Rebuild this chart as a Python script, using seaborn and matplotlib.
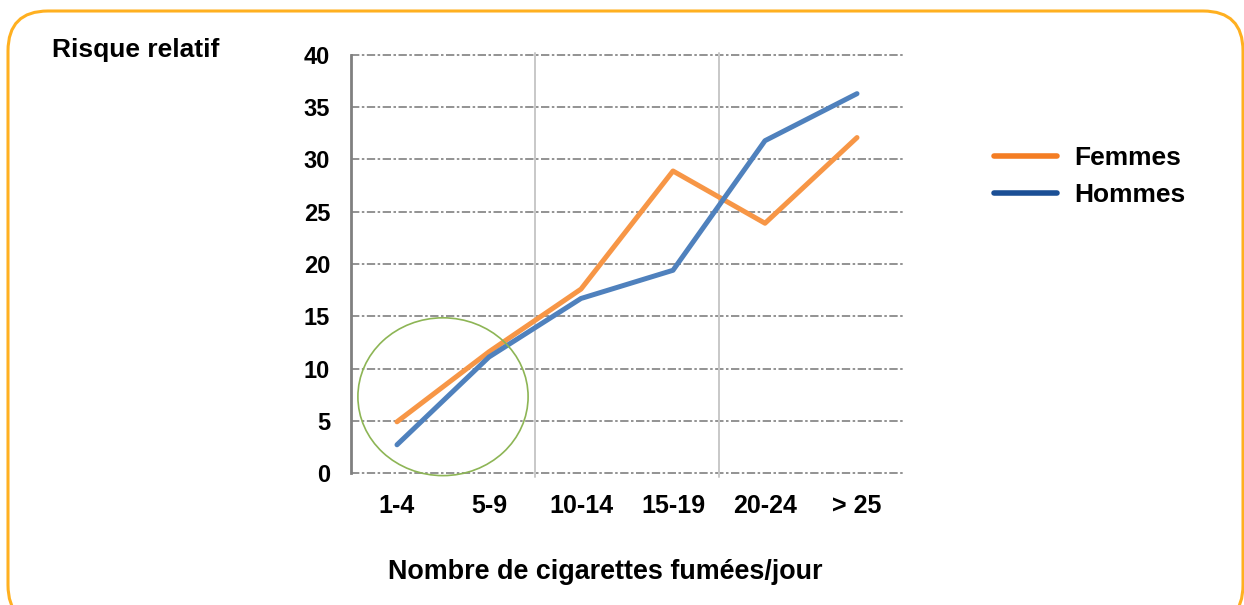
import pandas as pd
import matplotlib
matplotlib.use("Agg")
import matplotlib.pyplot as plt
import seaborn as sns
from matplotlib.lines import Line2D
from matplotlib.patches import Ellipse, FancyBboxPatch

sns.set_theme(style="white")
plt.rcParams['font.family'] = ['Liberation Sans', 'DejaVu Sans']
plt.rcParams['font.weight'] = 'bold'
plt.rcParams['text.color'] = 'black'
plt.rcParams['xtick.color'] = 'black'
plt.rcParams['ytick.color'] = 'black'

categories = ["1-4", "5-9", "10-14", "15-19", "20-24", "> 25"]
femmes = [4.9, 11.6, 17.6, 28.9, 23.9, 32.1]
hommes = [2.7, 11.1, 16.7, 19.4, 31.8, 36.3]
series = ["Femmes", "Hommes"]
yticks = [0, 5, 10, 15, 20, 25, 30, 35, 40]

df = pd.DataFrame({
    "cat": categories * 2,
    "val": femmes + hommes,
    "sexe": [series[0]] * len(categories) + [series[1]] * len(categories),
})

line_colors = {"Femmes": "#F79646", "Hommes": "#4F81BD"}
legend_colors = {"Femmes": "#F47D23", "Hommes": "#1B4F95"}

fig = plt.figure(figsize=(12.44, 6.05), dpi=100)
ax = fig.add_axes([351 / 1244, 132 / 605, 552 / 1244, 418 / 605])

# grille pointillée
for y in yticks:
    ax.axhline(y, color="#808080", lw=1.2, ls=(0, (5, 1.5, 1.5, 1.5)), zorder=1, clip_on=False)
# séparateurs verticaux
for xv in [1.5, 3.5]:
    ax.plot([xv, xv], [-0.4, 40.2], color="#c8c8c8", lw=1.4, zorder=1, clip_on=False)

sns.lineplot(data=df, x="cat", y="val", hue="sexe", palette=line_colors,
             linewidth=3.6, sort=False, legend=False, ax=ax, zorder=3)
for l in ax.lines:
    l.set_solid_capstyle("round")

ax.add_patch(Ellipse((0.5, 7.3), 1.85, 15.1, fill=False, edgecolor="#8DB555",
                     lw=1.2, zorder=4, clip_on=False))

ax.set_xlim(-0.5, 5.5)
ax.set_ylim(0, 40)
ax.set_yticks(yticks)
ax.set_xlabel("")
ax.set_ylabel("")
for s in ["top", "right", "bottom"]:
    ax.spines[s].set_visible(False)
ax.spines["left"].set_color("#808080")
ax.spines["left"].set_linewidth(2)
ax.tick_params(axis="y", length=5, width=1.5, color="#808080", labelcolor="black", pad=10, labelsize=17)
ax.tick_params(axis="x", length=0, pad=15, labelsize=18, labelcolor="black")
for t in ax.get_xticklabels() + ax.get_yticklabels():
    t.set_fontweight("bold")

handles = [Line2D([], [], color=legend_colors[s], lw=4) for s in series]
leg = fig.legend(handles, series, loc="upper left", bbox_to_anchor=(970 / 1244, 1 - 122 / 605),
                 frameon=False, prop={"weight": "bold", "size": 19},
                 handlelength=2.4, handletextpad=0.65, labelspacing=0.5)

fig.text(52 / 1244, 1 - 50 / 605, "Risque relatif", fontsize=19, fontweight="bold", va="center")
fig.text(605 / 1244, 1 - 572 / 605, "Nombre de cigarettes fumées/jour", fontsize=19.4,
         fontweight="bold", ha="center", va="center")

fig.patches.append(FancyBboxPatch((8, -20), 1235, 614, boxstyle="round,pad=0,rounding_size=40",
                                  transform=None, fill=False, edgecolor="#FFB020", lw=2.2))

fig.savefig("out.png", dpi=100, facecolor="white")
